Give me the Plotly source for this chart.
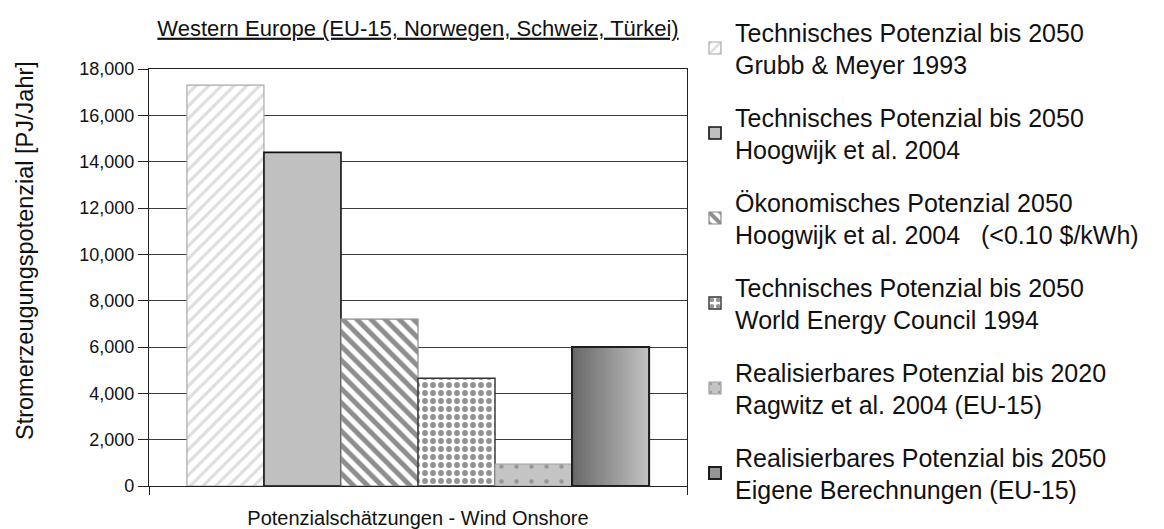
import numpy as np
import plotly.graph_objects as go

# Potenzialschätzungen Wind Onshore, Western Europe [PJ/Jahr]
series_names = [
    "Technisches Potenzial bis 2050<br>Grubb & Meyer 1993",
    "Technisches Potenzial bis 2050<br>Hoogwijk et al. 2004",
    "Ökonomisches Potenzial 2050<br>Hoogwijk et al. 2004   (<0.10 $/kWh)",
    "Technisches Potenzial bis 2050<br>World Energy Council 1994",
    "Realisierbares Potenzial bis 2020<br>Ragwitz et al. 2004 (EU-15)",
    "Realisierbares Potenzial bis 2050<br>Eigene Berechnungen (EU-15)",
]
series_values = [17300, 14400, 7200, 4650, 950, 6000]
category = "Potenzialschätzungen - Wind Onshore"
y_title = "Stromerzeugungspotenzial [PJ/Jahr]"
y_ticks = list(range(0, 18001, 2000))

FONT = "Liberation Sans, Arial, sans-serif"
BARGAP = 0.141

styles = [
    dict(color="white", line=dict(color="#a8a8a8", width=1.2),
         pattern=dict(shape="/", fgcolor="#bdbdbd", bgcolor="white", size=9, solidity=0.35)),
    dict(color="#c0c0c0", line=dict(color="#111111", width=1.6)),
    dict(color="white", line=dict(color="#8a8a8a", width=1.2),
         pattern=dict(shape="\\", fgcolor="#1e1e1e", bgcolor="white", size=10, solidity=0.5)),
    dict(color="white", line=dict(color="#333333", width=1.4),
         pattern=dict(shape=".", fgcolor="#262626", bgcolor="white", size=8, solidity=0.42)),
    dict(color="#c4c4c4", line=dict(color="#a0a0a0", width=1.2),
         pattern=dict(shape=".", fgcolor="#6a6a6a", bgcolor="#c4c4c4", size=15, solidity=0.07)),
    dict(color="#959595", line=dict(color="#1e1e1e", width=2)),
]

fig = go.Figure()
for i, (name, val, st) in enumerate(zip(series_names, series_values, styles)):
    fig.add_trace(go.Bar(
        x=[0], y=[val], name=name, marker=st,
        legendgroup=f"g{i}", hoverinfo="y",
    ))

# horizontal gray gradient for the last bar, drawn on an overlaid axis pair
n = len(series_values)
w = (1 - BARGAP) / n
left = -(1 - BARGAP) / 2 + (n - 1) * w
steps = 48
x_edges = np.linspace(left, left + w, steps + 1)
fig.add_trace(go.Heatmap(
    x=x_edges, y=[0, series_values[-1]], z=[np.linspace(0, 1, steps)],
    colorscale=[[0, "#686868"], [1, "#c2c2c2"]], showscale=False,
    xaxis="x2", yaxis="y2", hoverinfo="skip",
))
fig.add_trace(go.Bar(
    x=[0], y=[series_values[-1]], base=0, width=w, offset=left,
    marker=dict(color="rgba(0,0,0,0)", line=dict(color="#1e1e1e", width=2)),
    xaxis="x2", yaxis="y2", showlegend=False, hoverinfo="skip",
))

# vertical axis caption, placed slightly above the plot centre
fig.add_annotation(
    text=y_title, textangle=-90, showarrow=False,
    xref="paper", yref="paper", x=(25 - 149) / 538, y=(486 - 251) / 417,
    xanchor="center", yanchor="middle",
    font=dict(size=23.5, family=FONT, color="#111111"),
)

fig.update_layout(
    width=1164, height=529,
    margin=dict(l=149, r=477, t=69, b=43, autoexpand=False),
    paper_bgcolor="white", plot_bgcolor="white",
    barmode="group", bargap=BARGAP, bargroupgap=0,
    font=dict(family=FONT, color="#111111", size=18),
    title=dict(
        text="<u>Western Europe (EU-15, Norwegen, Schweiz, Türkei)</u>",
        x=(149 + 687) / 2 / 1164, xanchor="center",
        y=1 - 28 / 529, yanchor="middle",
        font=dict(size=22, family=FONT, color="#111111"),
    ),
    xaxis=dict(
        range=[-0.5, 0.5], tickvals=[-0.5, 0.5], showticklabels=False,
        ticks="outside", ticklen=8, tickcolor="#222", showgrid=False,
        zeroline=False, showline=True, linecolor="#222", linewidth=1.3, mirror=True,
        title=dict(text=category, font=dict(size=20, family=FONT), standoff=17),
    ),
    yaxis=dict(
        range=[0, 18000], tickvals=y_ticks, tickformat=",",
        ticks="outside", ticklen=10, tickcolor="#222",
        tickfont=dict(size=18, family=FONT),
        showgrid=True, gridcolor="#3c3c3c", gridwidth=1,
        zeroline=False, showline=True, linecolor="#222", linewidth=1.3, mirror=True,
    ),
    xaxis2=dict(range=[-0.5, 0.5], overlaying="x", visible=False),
    yaxis2=dict(range=[0, 18000], overlaying="y", visible=False),
    legend=dict(
        x=(695 - 149) / 538, xanchor="left",
        y=(486 - 9) / 417, yanchor="top",
        font=dict(size=25, family=FONT, color="#111111"),
        tracegroupgap=17, itemwidth=30, traceorder="grouped",
        bgcolor="rgba(0,0,0,0)", maxheight=529,
    ),
    showlegend=True,
)

fig.write_html("out.html")
